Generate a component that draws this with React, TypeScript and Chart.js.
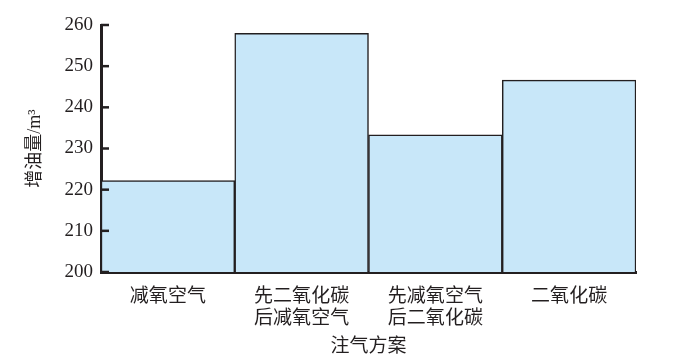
import React, { useEffect, useRef } from "react";
import { Chart, registerables } from "chart.js";

Chart.register(...registerables);

const categories: string[][] = [
  ["减氧空气"],
  ["先二氧化碳", "后减氧空气"],
  ["先减氧空气", "后二氧化碳"],
  ["二氧化碳"],
];
const increments: number[] = [222.2, 258, 233.3, 246.6];
const yMin = 200;
const yMax = 260;
const yStep = 10;
const yTitle = "增油量/m³";
const xTitle = "注气方案";

const INK = "#231F20";
const CJK = "'Noto Sans CJK SC', sans-serif";
const SERIF = "'Liberation Serif', 'Noto Sans CJK SC', serif";

const inwardTicks = {
  id: "inwardTicks",
  afterDatasetsDraw(chart: any) {
    const y = chart.scales.y;
    const ctx = chart.ctx;
    const left = chart.chartArea.left;
    ctx.save();
    ctx.strokeStyle = INK;
    ctx.lineWidth = 2.5;
    for (const t of y.ticks) {
      const py = y.getPixelForValue(t.value);
      ctx.beginPath();
      ctx.moveTo(left, py);
      ctx.lineTo(left + 8, py);
      ctx.stroke();
    }
    ctx.restore();
  },
};

export default function App() {
  const ref = useRef<HTMLCanvasElement | null>(null);
  useEffect(() => {
    if (!ref.current) return;
    const chart = new Chart(ref.current, {
      type: "bar",
      data: {
        labels: categories,
        datasets: [
          {
            data: increments,
            backgroundColor: "#C8E7F9",
            borderColor: INK,
            borderWidth: 1.5,
            borderSkipped: false,
            barPercentage: 1,
            categoryPercentage: 1,
          },
        ],
      },
      options: {
        responsive: false,
        animation: false,
        layout: { padding: { top: 25, right: 60, left: 0, bottom: 0 } },
        plugins: {
          legend: { display: false },
          tooltip: { enabled: false },
        },
        scales: {
          x: {
            grid: { display: false, drawTicks: false },
            border: { display: true, color: INK, width: 3 },
            ticks: {
              color: INK,
              padding: 11,
              font: { family: CJK, size: 19, lineHeight: 1.2 },
            },
            title: {
              display: true,
              text: xTitle,
              color: INK,
              font: { family: CJK, size: 19, lineHeight: 1.2 },
              padding: { top: 0, bottom: 3 },
            },
            afterFit(scale: any) {
              scale.height = 87;
            },
          },
          y: {
            min: yMin,
            max: yMax,
            grid: { display: false, drawTicks: false },
            border: { display: true, color: INK, width: 3 },
            ticks: {
              stepSize: yStep,
              color: INK,
              padding: 8,
              font: { family: SERIF, size: 19 },
            },
            title: {
              display: true,
              text: yTitle,
              color: INK,
              font: { family: SERIF, size: 18, lineHeight: 1.2 },
              padding: { top: 24, bottom: 0 },
            },
            afterFit(scale: any) {
              scale.width = 101;
            },
          },
        },
      },
      plugins: [inwardTicks],
    });
    return () => chart.destroy();
  }, []);
  return (
    <div style={{ position: "absolute", left: 0, top: 0, width: 696, height: 359, background: "#fff" }}>
      <canvas ref={ref} width={696} height={359} />
    </div>
  );
}
